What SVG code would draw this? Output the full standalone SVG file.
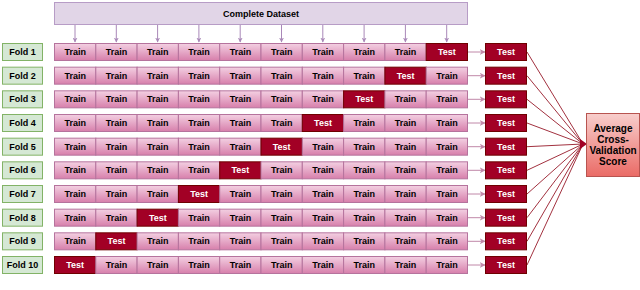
<svg xmlns="http://www.w3.org/2000/svg" width="640" height="290" viewBox="0 0 640 290">
<defs>
<linearGradient id="gTrain" x1="0" y1="0" x2="0" y2="1">
<stop offset="0" stop-color="#f3d0e2"/><stop offset="1" stop-color="#d77fab"/>
</linearGradient>
<linearGradient id="gAvg" x1="0" y1="0" x2="0" y2="1">
<stop offset="0" stop-color="#f8cecc"/><stop offset="1" stop-color="#ea6b66"/>
</linearGradient>
<marker id="aPur" viewBox="0 0 10 10" refX="9" refY="5" markerWidth="5" markerHeight="5" orient="auto" markerUnits="userSpaceOnUse">
<path d="M0,0 L10,5 L0,10 L3,5 Z" fill="#a988b8"/>
</marker>
<marker id="aPink" viewBox="0 0 10 10" refX="9" refY="5" markerWidth="6" markerHeight="6" orient="auto" markerUnits="userSpaceOnUse">
<path d="M0,0 L10,5 L0,10 L3,5 Z" fill="#c088a8"/>
</marker>
</defs>
<style>
text{font-family:"Liberation Sans",Arial,sans-serif;font-weight:bold;font-size:9px;text-anchor:middle;dominant-baseline:central}
.big{font-size:10px}
.train{fill:url(#gTrain);stroke:#b5739d;stroke-width:1}
.test{fill:#a20025;stroke:#6f0000;stroke-width:1}
.fold{fill:#d5e8d4;stroke:#82b366;stroke-width:1}
.wt{fill:#ffffff}
.bt{fill:#000000}
.ds{fill:#e1d5e7;stroke:#b79cc6;stroke-width:1}
.ap{stroke:#a988b8;stroke-width:1;fill:none;marker-end:url(#aPur)}
.ak{stroke:#c088a8;stroke-width:1;fill:none;marker-end:url(#aPink)}
.ln{stroke:#a2313f;stroke-width:1;fill:none}
</style>
<g id="dataset">
<rect class="ds" x="54.5" y="2.5" width="413" height="22"/>
<text class="bt" x="261" y="13.5">Complete Dataset</text>
</g>
<g id="connectors">
<line class="ap" x1="75" y1="25" x2="75" y2="42"/>
<line class="ap" x1="116.3" y1="25" x2="116.3" y2="42"/>
<line class="ap" x1="157.6" y1="25" x2="157.6" y2="42"/>
<line class="ap" x1="198.9" y1="25" x2="198.9" y2="42"/>
<line class="ap" x1="240.2" y1="25" x2="240.2" y2="42"/>
<line class="ap" x1="281.5" y1="25" x2="281.5" y2="42"/>
<line class="ap" x1="322.8" y1="25" x2="322.8" y2="42"/>
<line class="ap" x1="364.1" y1="25" x2="364.1" y2="42"/>
<line class="ap" x1="405.4" y1="25" x2="405.4" y2="42"/>
<line class="ap" x1="446.7" y1="25" x2="446.7" y2="42"/>
<line class="ak" x1="468" y1="52" x2="485" y2="52"/>
<line class="ak" x1="468" y1="75.7" x2="485" y2="75.7"/>
<line class="ak" x1="468" y1="99.3" x2="485" y2="99.3"/>
<line class="ak" x1="468" y1="123" x2="485" y2="123"/>
<line class="ak" x1="468" y1="146.7" x2="485" y2="146.7"/>
<line class="ak" x1="468" y1="170.3" x2="485" y2="170.3"/>
<line class="ak" x1="468" y1="194" x2="485" y2="194"/>
<line class="ak" x1="468" y1="217.7" x2="485" y2="217.7"/>
<line class="ak" x1="468" y1="241.3" x2="485" y2="241.3"/>
<line class="ak" x1="468" y1="265" x2="485" y2="265"/>
<line class="ln" x1="527" y1="52" x2="583" y2="144"/>
<line class="ln" x1="527" y1="75.7" x2="583" y2="144"/>
<line class="ln" x1="527" y1="99.3" x2="583" y2="144"/>
<line class="ln" x1="527" y1="123" x2="583" y2="144"/>
<line class="ln" x1="527" y1="146.7" x2="583" y2="144"/>
<line class="ln" x1="527" y1="170.3" x2="583" y2="144"/>
<line class="ln" x1="527" y1="194" x2="583" y2="144"/>
<line class="ln" x1="527" y1="217.7" x2="583" y2="144"/>
<line class="ln" x1="527" y1="241.3" x2="583" y2="144"/>
<line class="ln" x1="527" y1="265" x2="583" y2="144"/>
<path d="M580,139 L587,144 L580,149 Z" fill="#a20025"/>
</g>
<g id="fold1">
<rect class="fold" x="2.5" y="43.5" width="40" height="17"/><text class="bt" x="22.5" y="52">Fold 1</text>
<rect class="train" x="54.5" y="43.5" width="41.3" height="17"/><text class="bt" x="75.2" y="52">Train</text>
<rect class="train" x="95.8" y="43.5" width="41.3" height="17"/><text class="bt" x="116.5" y="52">Train</text>
<rect class="train" x="137.1" y="43.5" width="41.3" height="17"/><text class="bt" x="157.8" y="52">Train</text>
<rect class="train" x="178.4" y="43.5" width="41.3" height="17"/><text class="bt" x="199.1" y="52">Train</text>
<rect class="train" x="219.7" y="43.5" width="41.3" height="17"/><text class="bt" x="240.4" y="52">Train</text>
<rect class="train" x="261" y="43.5" width="41.3" height="17"/><text class="bt" x="281.7" y="52">Train</text>
<rect class="train" x="302.3" y="43.5" width="41.3" height="17"/><text class="bt" x="323" y="52">Train</text>
<rect class="train" x="343.6" y="43.5" width="41.3" height="17"/><text class="bt" x="364.3" y="52">Train</text>
<rect class="train" x="384.9" y="43.5" width="41.3" height="17"/><text class="bt" x="405.6" y="52">Train</text>
<rect class="test" x="426.2" y="43.5" width="41.3" height="17"/><text class="wt" x="446.9" y="52">Test</text>
<rect class="test" x="485.5" y="43.5" width="41" height="17"/><text class="wt" x="506" y="52">Test</text>
</g>
<g id="fold2" transform="translate(0,23.67)">
<rect class="fold" x="2.5" y="43.5" width="40" height="17"/><text class="bt" x="22.5" y="52">Fold 2</text>
<rect class="train" x="54.5" y="43.5" width="41.3" height="17"/><text class="bt" x="75.2" y="52">Train</text>
<rect class="train" x="95.8" y="43.5" width="41.3" height="17"/><text class="bt" x="116.5" y="52">Train</text>
<rect class="train" x="137.1" y="43.5" width="41.3" height="17"/><text class="bt" x="157.8" y="52">Train</text>
<rect class="train" x="178.4" y="43.5" width="41.3" height="17"/><text class="bt" x="199.1" y="52">Train</text>
<rect class="train" x="219.7" y="43.5" width="41.3" height="17"/><text class="bt" x="240.4" y="52">Train</text>
<rect class="train" x="261" y="43.5" width="41.3" height="17"/><text class="bt" x="281.7" y="52">Train</text>
<rect class="train" x="302.3" y="43.5" width="41.3" height="17"/><text class="bt" x="323" y="52">Train</text>
<rect class="train" x="343.6" y="43.5" width="41.3" height="17"/><text class="bt" x="364.3" y="52">Train</text>
<rect class="test" x="384.9" y="43.5" width="41.3" height="17"/><text class="wt" x="405.6" y="52">Test</text>
<rect class="train" x="426.2" y="43.5" width="41.3" height="17"/><text class="bt" x="446.9" y="52">Train</text>
<rect class="test" x="485.5" y="43.5" width="41" height="17"/><text class="wt" x="506" y="52">Test</text>
</g>
<g id="fold3" transform="translate(0,47.33)">
<rect class="fold" x="2.5" y="43.5" width="40" height="17"/><text class="bt" x="22.5" y="52">Fold 3</text>
<rect class="train" x="54.5" y="43.5" width="41.3" height="17"/><text class="bt" x="75.2" y="52">Train</text>
<rect class="train" x="95.8" y="43.5" width="41.3" height="17"/><text class="bt" x="116.5" y="52">Train</text>
<rect class="train" x="137.1" y="43.5" width="41.3" height="17"/><text class="bt" x="157.8" y="52">Train</text>
<rect class="train" x="178.4" y="43.5" width="41.3" height="17"/><text class="bt" x="199.1" y="52">Train</text>
<rect class="train" x="219.7" y="43.5" width="41.3" height="17"/><text class="bt" x="240.4" y="52">Train</text>
<rect class="train" x="261" y="43.5" width="41.3" height="17"/><text class="bt" x="281.7" y="52">Train</text>
<rect class="train" x="302.3" y="43.5" width="41.3" height="17"/><text class="bt" x="323" y="52">Train</text>
<rect class="test" x="343.6" y="43.5" width="41.3" height="17"/><text class="wt" x="364.3" y="52">Test</text>
<rect class="train" x="384.9" y="43.5" width="41.3" height="17"/><text class="bt" x="405.6" y="52">Train</text>
<rect class="train" x="426.2" y="43.5" width="41.3" height="17"/><text class="bt" x="446.9" y="52">Train</text>
<rect class="test" x="485.5" y="43.5" width="41" height="17"/><text class="wt" x="506" y="52">Test</text>
</g>
<g id="fold4" transform="translate(0,71)">
<rect class="fold" x="2.5" y="43.5" width="40" height="17"/><text class="bt" x="22.5" y="52">Fold 4</text>
<rect class="train" x="54.5" y="43.5" width="41.3" height="17"/><text class="bt" x="75.2" y="52">Train</text>
<rect class="train" x="95.8" y="43.5" width="41.3" height="17"/><text class="bt" x="116.5" y="52">Train</text>
<rect class="train" x="137.1" y="43.5" width="41.3" height="17"/><text class="bt" x="157.8" y="52">Train</text>
<rect class="train" x="178.4" y="43.5" width="41.3" height="17"/><text class="bt" x="199.1" y="52">Train</text>
<rect class="train" x="219.7" y="43.5" width="41.3" height="17"/><text class="bt" x="240.4" y="52">Train</text>
<rect class="train" x="261" y="43.5" width="41.3" height="17"/><text class="bt" x="281.7" y="52">Train</text>
<rect class="test" x="302.3" y="43.5" width="41.3" height="17"/><text class="wt" x="323" y="52">Test</text>
<rect class="train" x="343.6" y="43.5" width="41.3" height="17"/><text class="bt" x="364.3" y="52">Train</text>
<rect class="train" x="384.9" y="43.5" width="41.3" height="17"/><text class="bt" x="405.6" y="52">Train</text>
<rect class="train" x="426.2" y="43.5" width="41.3" height="17"/><text class="bt" x="446.9" y="52">Train</text>
<rect class="test" x="485.5" y="43.5" width="41" height="17"/><text class="wt" x="506" y="52">Test</text>
</g>
<g id="fold5" transform="translate(0,94.67)">
<rect class="fold" x="2.5" y="43.5" width="40" height="17"/><text class="bt" x="22.5" y="52">Fold 5</text>
<rect class="train" x="54.5" y="43.5" width="41.3" height="17"/><text class="bt" x="75.2" y="52">Train</text>
<rect class="train" x="95.8" y="43.5" width="41.3" height="17"/><text class="bt" x="116.5" y="52">Train</text>
<rect class="train" x="137.1" y="43.5" width="41.3" height="17"/><text class="bt" x="157.8" y="52">Train</text>
<rect class="train" x="178.4" y="43.5" width="41.3" height="17"/><text class="bt" x="199.1" y="52">Train</text>
<rect class="train" x="219.7" y="43.5" width="41.3" height="17"/><text class="bt" x="240.4" y="52">Train</text>
<rect class="test" x="261" y="43.5" width="41.3" height="17"/><text class="wt" x="281.7" y="52">Test</text>
<rect class="train" x="302.3" y="43.5" width="41.3" height="17"/><text class="bt" x="323" y="52">Train</text>
<rect class="train" x="343.6" y="43.5" width="41.3" height="17"/><text class="bt" x="364.3" y="52">Train</text>
<rect class="train" x="384.9" y="43.5" width="41.3" height="17"/><text class="bt" x="405.6" y="52">Train</text>
<rect class="train" x="426.2" y="43.5" width="41.3" height="17"/><text class="bt" x="446.9" y="52">Train</text>
<rect class="test" x="485.5" y="43.5" width="41" height="17"/><text class="wt" x="506" y="52">Test</text>
</g>
<g id="fold6" transform="translate(0,118.33)">
<rect class="fold" x="2.5" y="43.5" width="40" height="17"/><text class="bt" x="22.5" y="52">Fold 6</text>
<rect class="train" x="54.5" y="43.5" width="41.3" height="17"/><text class="bt" x="75.2" y="52">Train</text>
<rect class="train" x="95.8" y="43.5" width="41.3" height="17"/><text class="bt" x="116.5" y="52">Train</text>
<rect class="train" x="137.1" y="43.5" width="41.3" height="17"/><text class="bt" x="157.8" y="52">Train</text>
<rect class="train" x="178.4" y="43.5" width="41.3" height="17"/><text class="bt" x="199.1" y="52">Train</text>
<rect class="test" x="219.7" y="43.5" width="41.3" height="17"/><text class="wt" x="240.4" y="52">Test</text>
<rect class="train" x="261" y="43.5" width="41.3" height="17"/><text class="bt" x="281.7" y="52">Train</text>
<rect class="train" x="302.3" y="43.5" width="41.3" height="17"/><text class="bt" x="323" y="52">Train</text>
<rect class="train" x="343.6" y="43.5" width="41.3" height="17"/><text class="bt" x="364.3" y="52">Train</text>
<rect class="train" x="384.9" y="43.5" width="41.3" height="17"/><text class="bt" x="405.6" y="52">Train</text>
<rect class="train" x="426.2" y="43.5" width="41.3" height="17"/><text class="bt" x="446.9" y="52">Train</text>
<rect class="test" x="485.5" y="43.5" width="41" height="17"/><text class="wt" x="506" y="52">Test</text>
</g>
<g id="fold7" transform="translate(0,142)">
<rect class="fold" x="2.5" y="43.5" width="40" height="17"/><text class="bt" x="22.5" y="52">Fold 7</text>
<rect class="train" x="54.5" y="43.5" width="41.3" height="17"/><text class="bt" x="75.2" y="52">Train</text>
<rect class="train" x="95.8" y="43.5" width="41.3" height="17"/><text class="bt" x="116.5" y="52">Train</text>
<rect class="train" x="137.1" y="43.5" width="41.3" height="17"/><text class="bt" x="157.8" y="52">Train</text>
<rect class="test" x="178.4" y="43.5" width="41.3" height="17"/><text class="wt" x="199.1" y="52">Test</text>
<rect class="train" x="219.7" y="43.5" width="41.3" height="17"/><text class="bt" x="240.4" y="52">Train</text>
<rect class="train" x="261" y="43.5" width="41.3" height="17"/><text class="bt" x="281.7" y="52">Train</text>
<rect class="train" x="302.3" y="43.5" width="41.3" height="17"/><text class="bt" x="323" y="52">Train</text>
<rect class="train" x="343.6" y="43.5" width="41.3" height="17"/><text class="bt" x="364.3" y="52">Train</text>
<rect class="train" x="384.9" y="43.5" width="41.3" height="17"/><text class="bt" x="405.6" y="52">Train</text>
<rect class="train" x="426.2" y="43.5" width="41.3" height="17"/><text class="bt" x="446.9" y="52">Train</text>
<rect class="test" x="485.5" y="43.5" width="41" height="17"/><text class="wt" x="506" y="52">Test</text>
</g>
<g id="fold8" transform="translate(0,165.67)">
<rect class="fold" x="2.5" y="43.5" width="40" height="17"/><text class="bt" x="22.5" y="52">Fold 8</text>
<rect class="train" x="54.5" y="43.5" width="41.3" height="17"/><text class="bt" x="75.2" y="52">Train</text>
<rect class="train" x="95.8" y="43.5" width="41.3" height="17"/><text class="bt" x="116.5" y="52">Train</text>
<rect class="test" x="137.1" y="43.5" width="41.3" height="17"/><text class="wt" x="157.8" y="52">Test</text>
<rect class="train" x="178.4" y="43.5" width="41.3" height="17"/><text class="bt" x="199.1" y="52">Train</text>
<rect class="train" x="219.7" y="43.5" width="41.3" height="17"/><text class="bt" x="240.4" y="52">Train</text>
<rect class="train" x="261" y="43.5" width="41.3" height="17"/><text class="bt" x="281.7" y="52">Train</text>
<rect class="train" x="302.3" y="43.5" width="41.3" height="17"/><text class="bt" x="323" y="52">Train</text>
<rect class="train" x="343.6" y="43.5" width="41.3" height="17"/><text class="bt" x="364.3" y="52">Train</text>
<rect class="train" x="384.9" y="43.5" width="41.3" height="17"/><text class="bt" x="405.6" y="52">Train</text>
<rect class="train" x="426.2" y="43.5" width="41.3" height="17"/><text class="bt" x="446.9" y="52">Train</text>
<rect class="test" x="485.5" y="43.5" width="41" height="17"/><text class="wt" x="506" y="52">Test</text>
</g>
<g id="fold9" transform="translate(0,189.33)">
<rect class="fold" x="2.5" y="43.5" width="40" height="17"/><text class="bt" x="22.5" y="52">Fold 9</text>
<rect class="train" x="54.5" y="43.5" width="41.3" height="17"/><text class="bt" x="75.2" y="52">Train</text>
<rect class="test" x="95.8" y="43.5" width="41.3" height="17"/><text class="wt" x="116.5" y="52">Test</text>
<rect class="train" x="137.1" y="43.5" width="41.3" height="17"/><text class="bt" x="157.8" y="52">Train</text>
<rect class="train" x="178.4" y="43.5" width="41.3" height="17"/><text class="bt" x="199.1" y="52">Train</text>
<rect class="train" x="219.7" y="43.5" width="41.3" height="17"/><text class="bt" x="240.4" y="52">Train</text>
<rect class="train" x="261" y="43.5" width="41.3" height="17"/><text class="bt" x="281.7" y="52">Train</text>
<rect class="train" x="302.3" y="43.5" width="41.3" height="17"/><text class="bt" x="323" y="52">Train</text>
<rect class="train" x="343.6" y="43.5" width="41.3" height="17"/><text class="bt" x="364.3" y="52">Train</text>
<rect class="train" x="384.9" y="43.5" width="41.3" height="17"/><text class="bt" x="405.6" y="52">Train</text>
<rect class="train" x="426.2" y="43.5" width="41.3" height="17"/><text class="bt" x="446.9" y="52">Train</text>
<rect class="test" x="485.5" y="43.5" width="41" height="17"/><text class="wt" x="506" y="52">Test</text>
</g>
<g id="fold10" transform="translate(0,213)">
<rect class="fold" x="2.5" y="43.5" width="40" height="17"/><text class="bt" x="22.5" y="52">Fold 10</text>
<rect class="test" x="54.5" y="43.5" width="41.3" height="17"/><text class="wt" x="75.2" y="52">Test</text>
<rect class="train" x="95.8" y="43.5" width="41.3" height="17"/><text class="bt" x="116.5" y="52">Train</text>
<rect class="train" x="137.1" y="43.5" width="41.3" height="17"/><text class="bt" x="157.8" y="52">Train</text>
<rect class="train" x="178.4" y="43.5" width="41.3" height="17"/><text class="bt" x="199.1" y="52">Train</text>
<rect class="train" x="219.7" y="43.5" width="41.3" height="17"/><text class="bt" x="240.4" y="52">Train</text>
<rect class="train" x="261" y="43.5" width="41.3" height="17"/><text class="bt" x="281.7" y="52">Train</text>
<rect class="train" x="302.3" y="43.5" width="41.3" height="17"/><text class="bt" x="323" y="52">Train</text>
<rect class="train" x="343.6" y="43.5" width="41.3" height="17"/><text class="bt" x="364.3" y="52">Train</text>
<rect class="train" x="384.9" y="43.5" width="41.3" height="17"/><text class="bt" x="405.6" y="52">Train</text>
<rect class="train" x="426.2" y="43.5" width="41.3" height="17"/><text class="bt" x="446.9" y="52">Train</text>
<rect class="test" x="485.5" y="43.5" width="41" height="17"/><text class="wt" x="506" y="52">Test</text>
</g>
<g id="average">
<rect x="586.5" y="113.5" width="53" height="63" fill="url(#gAvg)" stroke="#b85450" stroke-width="1"/>
<text class="bt big" x="613" y="128.5">Average</text>
<text class="bt big" x="613" y="139.5">Cross-</text>
<text class="bt big" x="613" y="150.5">Validation</text>
<text class="bt big" x="613" y="161.5">Score</text>
</g>
</svg>
